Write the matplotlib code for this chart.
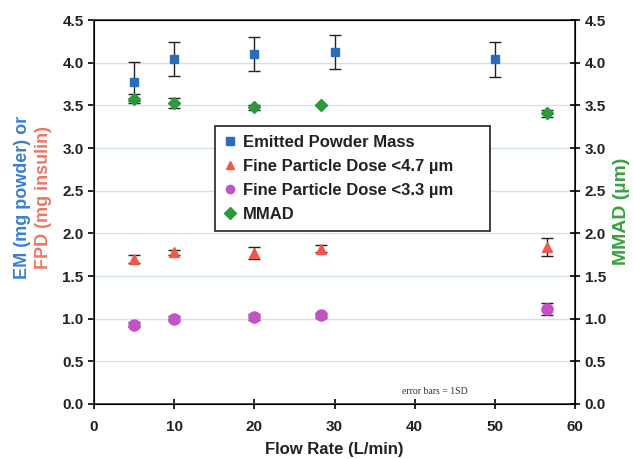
import matplotlib.pyplot as plt
from matplotlib.lines import Line2D
import numpy as np

plt.rcParams['font.family'] = ['Liberation Sans', 'DejaVu Sans']

# emitted powder mass
em_x = [5, 10, 20, 30, 50]
em_y = [3.78, 4.05, 4.10, 4.13, 4.04]
em_err = [0.23, 0.20, 0.20, 0.20, 0.21]

# fine particle dose < 4.7 um
fpd47_x = [5, 10, 20, 28.3, 56.5]
fpd47_y = [1.70, 1.78, 1.77, 1.82, 1.84]
fpd47_err = [0.05, 0.03, 0.07, 0.04, 0.10]

# fine particle dose < 3.3 um
fpd33_x = [5, 10, 20, 28.3, 56.5]
fpd33_y = [0.93, 1.00, 1.02, 1.04, 1.11]
fpd33_err = [0.03, 0.03, 0.04, 0.03, 0.07]

# MMAD
mmad_x = [5, 10, 20, 28.3, 56.5]
mmad_y = [3.58, 3.53, 3.48, 3.51, 3.41]
mmad_err = [0.05, 0.06, 0.03, 0.0, 0.04]

series = [
    (em_x, em_y, em_err, 's', 6, '#2a6cc0', 'Emitted Powder Mass'),
    (fpd47_x, fpd47_y, fpd47_err, '^', 7, '#f0584e', 'Fine Particle Dose <4.7 µm'),
    (fpd33_x, fpd33_y, fpd33_err, 'o', 8, '#c452c4', 'Fine Particle Dose <3.3 µm'),
    (mmad_x, mmad_y, mmad_err, 'D', 6, '#2a9a3a', 'MMAD'),
]

fig = plt.figure(figsize=(6.33, 4.59), dpi=100)
ax = fig.add_axes([0.1485, 0.12, 0.76, 0.836])

handles = []
for x, y, e, m, ms, c, lab in series:
    ax.errorbar(x, y, yerr=e, ls='none', ecolor='#222222', elinewidth=1.0,
                capsize=4.5, capthick=1.0, zorder=3)
    ax.plot(x, y, ls='none', marker=m, ms=ms, color=c, zorder=4)
    handles.append(Line2D([], [], ls='none', marker=m, ms=6, color=c, label=lab))

ax.set_xlim(0, 60)
ax.set_ylim(0, 4.5)
ax.set_xticks(np.arange(0, 61, 10))
ax.set_yticks(np.arange(0, 4.51, 0.5))
ax.yaxis.grid(True, color='#cfe3f0', lw=1)
ax.set_axisbelow(True)
for s in ax.spines.values():
    s.set_color('#333333')
    s.set_linewidth(1.3)
ax.spines['top'].set_color('#5a3a36')
ax.spines['bottom'].set_color('#5a3a36')
ax.tick_params(axis='x', direction='inout', length=7, width=1.2, labelsize=11, pad=8)
ax.tick_params(axis='y', direction='out', length=4, width=1.2, labelsize=11)
for lbl in ax.get_xticklabels() + ax.get_yticklabels():
    lbl.set_fontweight('bold')
    lbl.set_color('#222222')
ax.set_xlabel('Flow Rate (L/min)', fontsize=12, fontweight='bold', color='#222222',
              labelpad=6)

fig.text(0.035, 0.57, 'EM (mg powder) or', rotation=90, ha='center', va='center',
         fontsize=13, fontweight='bold', color='#3a7fd0')
fig.text(0.068, 0.57, 'FPD (mg insulin)', rotation=90, ha='center', va='center',
         fontsize=13, fontweight='bold', color='#f07563')

ax2 = ax.twinx()
ax2.set_ylim(0, 4.5)
ax2.set_yticks(np.arange(0, 4.51, 0.5))
ax2.tick_params(axis='y', direction='inout', length=7, width=1.2, labelsize=11)
for lbl in ax2.get_yticklabels():
    lbl.set_fontweight('bold')
    lbl.set_color('#222222')
fig.text(0.982, 0.54, 'MMAD (µm)', rotation=90, ha='center', va='center',
         fontsize=14, fontweight='bold', color='#3aa040')

leg = ax2.legend(handles=handles, loc='upper left',
                 bbox_to_anchor=(0.2516, 0.455, 0.572, 0.268), mode='expand',
                 borderaxespad=0, fontsize=12, frameon=True, fancybox=False,
                 edgecolor='#333333', handlelength=0.8, handletextpad=0.4,
                 borderpad=0.5, labelspacing=0.55, numpoints=1, framealpha=1)
leg.get_frame().set_linewidth(1.3)
for t in leg.get_texts():
    t.set_fontweight('bold')
    t.set_color('#222222')

ax.text(42.5, 0.14, 'error bars = 1SD', fontsize=7, family='Liberation Serif',
        ha='center', va='center', color='#333333')

fig.savefig('out.png', dpi=100)
